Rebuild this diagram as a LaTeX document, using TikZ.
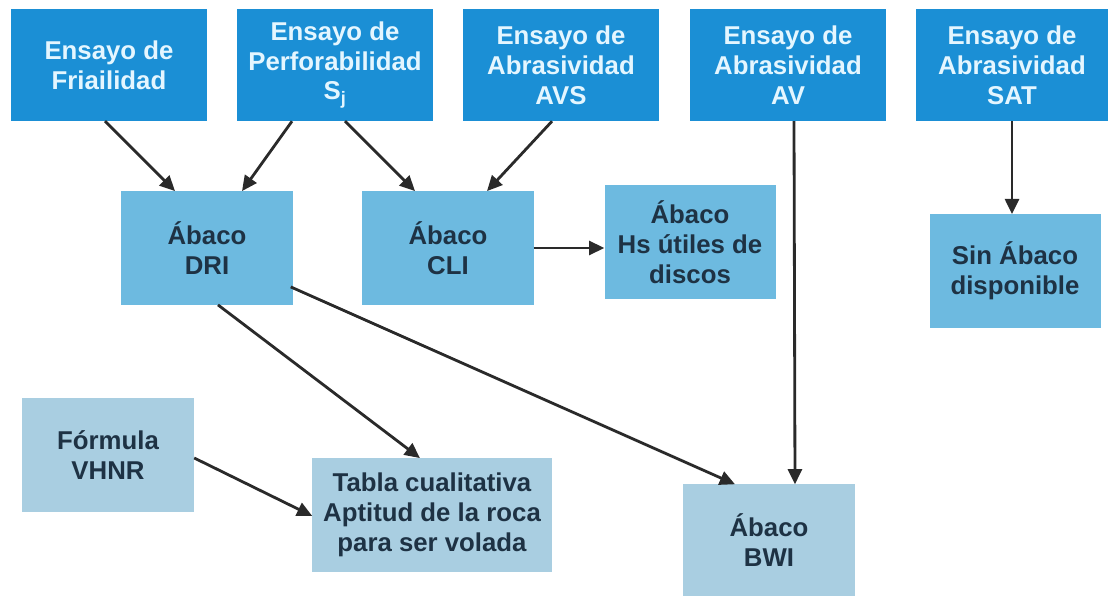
\documentclass[tikz,border=0pt]{standalone}
\usepackage{fontspec}
\setmainfont{Liberation Sans}
\usetikzlibrary{arrows.meta,calc}

\definecolor{topblue}{HTML}{1B8FD5}
\definecolor{midblue}{HTML}{6DBAE0}
\definecolor{lowblue}{HTML}{A9CEE1}
\definecolor{toptext}{HTML}{E4F6FF}
\definecolor{boxtext}{HTML}{1E3244}
\definecolor{arrowgray}{HTML}{2A2A2A}

\tikzset{
  topbox/.style={fill=topblue, text=toptext, minimum width=5.9cm, minimum height=3.36cm},
  midbox/.style={fill=midblue, text=boxtext, minimum width=5.13cm, minimum height=3.4cm},
  lowbox/.style={fill=lowblue, text=boxtext, minimum width=5.16cm, minimum height=3.4cm},
  every node/.style={align=center, inner sep=0pt, font=\fontsize{22}{25.5}\selectfont\bfseries},
  arr/.style={draw=arrowgray, line width=2.4pt, -{Triangle[length=13pt,width=12pt]}}
}

\begin{document}
\begin{tikzpicture}[x=0.03cm, y=-0.03cm]
    \useasboundingbox (0,0) rectangle (1111,598);

    \node[topbox] (fri) at (109,65) {Ensayo de\\Friailidad};
    \node[topbox] (perf) at (335,65) {Ensayo de\\Perforabilidad\\S\textsubscript{j}};
    \node[topbox] (avs) at (561,65) {Ensayo de\\Abrasividad\\AVS};
    \node[topbox] (av) at (788,65) {Ensayo de\\Abrasividad\\AV};
    \node[topbox, minimum width=5.78cm] (sat) at (1012,65) {Ensayo de\\Abrasividad\\SAT};

    \node[midbox] (dri) at (207,248) {Ábaco\\DRI};
    \node[midbox] (cli) at (448,248) {Ábaco\\CLI};
    \node[midbox] (hs) at (690,242) {Ábaco\\Hs útiles de\\discos};
    \node[midbox] (sin) at (1015,271) {Sin Ábaco\\disponible};

    \node[lowbox] (vhnr) at (108,455) {Fórmula\\VHNR};
    \node[lowbox, minimum width=7.17cm] (tabla) at (432,515) {Tabla cualitativa\\Aptitud de la roca\\para ser volada};
    \node[lowbox, minimum width=5.16cm, minimum height=3.33cm] (bwi) at (769,540) {Ábaco\\BWI};

    \draw[arr] ($(fri.south)+(-4,0)$) -- ($(dri.north)+(-32,0)$);
    \draw[arr] ($(perf.south)+(-43,0)$) -- ($(dri.north)+(35,0)$);
    \draw[arr] ($(perf.south)+(10,0)$) -- ($(cli.north)+(-33,0)$);
    \draw[arr] ($(avs.south)+(-9,0)$) -- ($(cli.north)+(39,0)$);
    \draw[arr] (cli.east) -- (hs.west |- cli.east);
    \draw[arr] ($(av.south)+(6,0)$) -- ($(bwi.north)+(26,0)$);
    \draw[arr] (sat.south) -- (sat.south |- sin.north);
    \draw[arr] ($(dri.south east)+(-2,-18)$) -- ($(bwi.north)+(-34,0)$);
    \draw[arr] ($(dri.south)+(11,0)$) -- ($(tabla.north)+(-12,0)$);
    \draw[arr] ($(vhnr.east)+(0,3)$) -- ($(tabla.west)+(0,1)$);
\end{tikzpicture}
\end{document}
